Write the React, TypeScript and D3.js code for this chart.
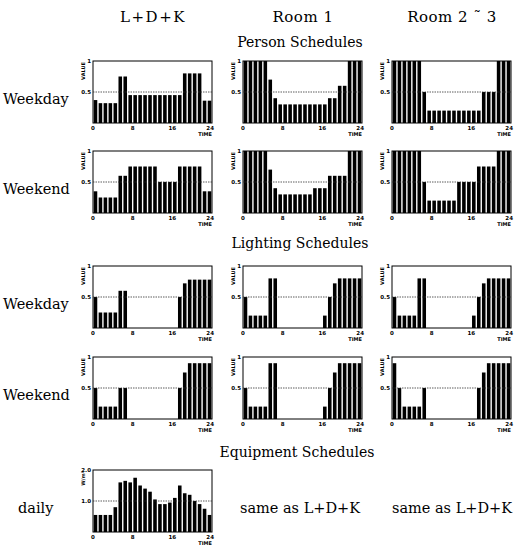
import React from "react";
import * as d3 from "d3";

const hours = [1, 2, 3, 4, 5, 6, 7, 8, 9, 10, 11, 12, 13, 14, 15, 16, 17, 18, 19, 20, 21, 22, 23, 24];
const columns = ["L+D+K", "Room 1", "Room 2 \u02DC 3"];
const xTicks = [0, 8, 16, 24];

const personWeekdayLDK = [0.37, 0.32, 0.32, 0.32, 0.32, 0.75, 0.75, 0.45, 0.45, 0.45, 0.45, 0.45, 0.45, 0.45, 0.45, 0.45, 0.45, 0.45, 0.8, 0.8, 0.8, 0.8, 0.36, 0.36];
const personWeekdayRoom1 = [1, 1, 1, 1, 1, 0.7, 0.4, 0.3, 0.3, 0.3, 0.3, 0.3, 0.3, 0.3, 0.3, 0.3, 0.3, 0.4, 0.4, 0.6, 0.6, 1, 1, 1];
const personWeekdayRoom23 = [1, 1, 1, 1, 1, 1, 0.5, 0.2, 0.2, 0.2, 0.2, 0.2, 0.2, 0.2, 0.2, 0.2, 0.2, 0.2, 0.5, 0.5, 0.5, 1, 1, 1];
const personWeekendLDK = [0.35, 0.25, 0.25, 0.25, 0.25, 0.6, 0.6, 0.75, 0.75, 0.75, 0.75, 0.75, 0.75, 0.5, 0.5, 0.5, 0.5, 0.75, 0.75, 0.75, 0.75, 0.75, 0.35, 0.35];
const personWeekendRoom1 = [1, 1, 1, 1, 1, 0.7, 0.4, 0.3, 0.3, 0.3, 0.3, 0.3, 0.3, 0.3, 0.4, 0.4, 0.4, 0.6, 0.6, 0.6, 0.6, 1, 1, 1];
const personWeekendRoom23 = [1, 1, 1, 1, 1, 1, 0.5, 0.2, 0.2, 0.2, 0.2, 0.2, 0.2, 0.5, 0.5, 0.5, 0.5, 0.75, 0.75, 0.75, 0.75, 1, 1, 1];

const lightWeekdayLDK = [0.5, 0.25, 0.25, 0.25, 0.25, 0.6, 0.6, 0, 0, 0, 0, 0, 0, 0, 0, 0, 0, 0.5, 0.72, 0.78, 0.78, 0.78, 0.78, 0.78];
const lightWeekdayRoom1 = [0.5, 0.2, 0.2, 0.2, 0.2, 0.8, 0.8, 0, 0, 0, 0, 0, 0, 0, 0, 0, 0.2, 0.5, 0.72, 0.8, 0.8, 0.8, 0.8, 0.8];
const lightWeekdayRoom23 = [0.5, 0.2, 0.2, 0.2, 0.2, 0.8, 0.8, 0, 0, 0, 0, 0, 0, 0, 0, 0, 0.2, 0.5, 0.72, 0.8, 0.8, 0.8, 0.8, 0.8];
const lightWeekendLDK = [0.5, 0.2, 0.2, 0.2, 0.2, 0.5, 0.5, 0, 0, 0, 0, 0, 0, 0, 0, 0, 0, 0.5, 0.75, 0.9, 0.9, 0.9, 0.9, 0.9];
const lightWeekendRoom1 = [0.5, 0.2, 0.2, 0.2, 0.2, 0.9, 0.9, 0, 0, 0, 0, 0, 0, 0, 0, 0, 0.2, 0.5, 0.75, 0.9, 0.9, 0.9, 0.9, 0.9];
const lightWeekendRoom23 = [0.9, 0.5, 0.2, 0.2, 0.2, 0.2, 0.5, 0, 0, 0, 0, 0, 0, 0, 0, 0, 0, 0.5, 0.75, 0.9, 0.9, 0.9, 0.9, 0.9];

const equipDaily = [0.55, 0.55, 0.55, 0.55, 0.8, 1.6, 1.65, 1.6, 1.75, 1.5, 1.4, 1.3, 1.05, 0.9, 0.9, 0.95, 1.1, 1.5, 1.25, 1.2, 1.0, 0.9, 0.75, 0.55];

const colX = [93, 243, 392];
const panelW = 119;
const panelH = 62;
const serif = "'DejaVu Serif', 'Liberation Serif', serif";
const tiny = "'DejaVu Sans', Arial, sans-serif";

function Panel({ x, y, data, yMax, yTicks, yLabel, refLine }: any) {
  const xs = d3.scaleLinear().domain([0, 24]).range([0, panelW]);
  const ys = d3.scaleLinear().domain([0, yMax]).range([panelH, 0]);
  const bw = xs(1) - xs(0);
  return (
    <g transform={`translate(${x},${y})`}>
      {data.map((v: number, i: number) => (
        <rect key={i} x={xs(hours[i] - 1) + bw * 0.14} y={ys(v)} width={bw * 0.72} height={panelH - ys(v)} fill="#000" />
      ))}
      <rect x={0} y={0} width={panelW} height={panelH} fill="none" stroke="#000" strokeWidth={1} />
      <line x1={0} x2={panelW} y1={ys(refLine)} y2={ys(refLine)} stroke="#333" strokeWidth={0.8} strokeDasharray="1.5,1" />
      {yTicks.map((t: any) => (
        <text key={t.label} x={-2} y={ys(t.v) + 2} fontSize={5.5} fontWeight="bold" fontFamily={tiny} textAnchor="end">{t.label}</text>
      ))}
      <text transform={`translate(-8,1) rotate(-90)`} fontSize={5} fontWeight="bold" fontFamily={tiny} textAnchor="end">{yLabel}</text>
      {xTicks.map((t) => (
        <text key={t} x={xs(t)} y={panelH + 7} fontSize={5.5} fontWeight="bold" fontFamily={tiny} textAnchor={t === 24 ? "end" : "middle"} dx={t === 24 ? 2 : 0}>{t}</text>
      ))}
      <text x={panelW} y={panelH + 13} fontSize={5} fontWeight="bold" fontFamily={tiny} textAnchor="end">TIME</text>
    </g>
  );
}

const valueTicks = [{ v: 0, label: "" }, { v: 0.5, label: "0.5" }, { v: 1, label: "1" }];
const equipTicks = [{ v: 1, label: "1.0" }, { v: 2, label: "2.0" }];

export default function App() {
  const rows = [
    { y: 61, label: "Weekday", sets: [personWeekdayLDK, personWeekdayRoom1, personWeekdayRoom23] },
    { y: 151, label: "Weekend", sets: [personWeekendLDK, personWeekendRoom1, personWeekendRoom23] },
    { y: 266, label: "Weekday", sets: [lightWeekdayLDK, lightWeekdayRoom1, lightWeekdayRoom23] },
    { y: 357, label: "Weekend", sets: [lightWeekendLDK, lightWeekendRoom1, lightWeekendRoom23] },
  ];
  return (
    <svg width={514} height={548} style={{ position: "absolute", left: 0, top: 0, background: "#fff" }}>
      {columns.map((c, i) => (
        <text key={c} x={colX[i] + 60} y={22} fontSize={15} fontFamily={serif} textAnchor="middle" letterSpacing={i === 0 ? 1.5 : 0.5}>{c}</text>
      ))}
      <text x={300} y={47} fontSize={14} fontFamily={serif} textAnchor="middle">Person Schedules</text>
      <text x={300} y={248} fontSize={14} fontFamily={serif} textAnchor="middle">Lighting Schedules</text>
      <text x={297} y={457} fontSize={14} fontFamily={serif} textAnchor="middle">Equipment Schedules</text>
      {rows.map((r, ri) => (
        <g key={ri}>
          <text x={3} y={r.y + 43} fontSize={14.5} fontFamily={serif}>{r.label}</text>
          {r.sets.map((d, ci) => (
            <Panel key={ci} x={colX[ci]} y={r.y} data={d} yMax={1} yTicks={valueTicks} yLabel="VALUE" refLine={0.5} />
          ))}
        </g>
      ))}
      <text x={18} y={513} fontSize={14.5} fontFamily={serif}>daily</text>
      <Panel x={colX[0]} y={470} data={equipDaily} yMax={2} yTicks={equipTicks} yLabel="W/m²" refLine={1} />
      <text x={300} y={513} fontSize={14.5} fontFamily={serif} textAnchor="middle">same as L+D+K</text>
      <text x={452} y={513} fontSize={14.5} fontFamily={serif} textAnchor="middle">same as L+D+K</text>
    </svg>
  );
}
